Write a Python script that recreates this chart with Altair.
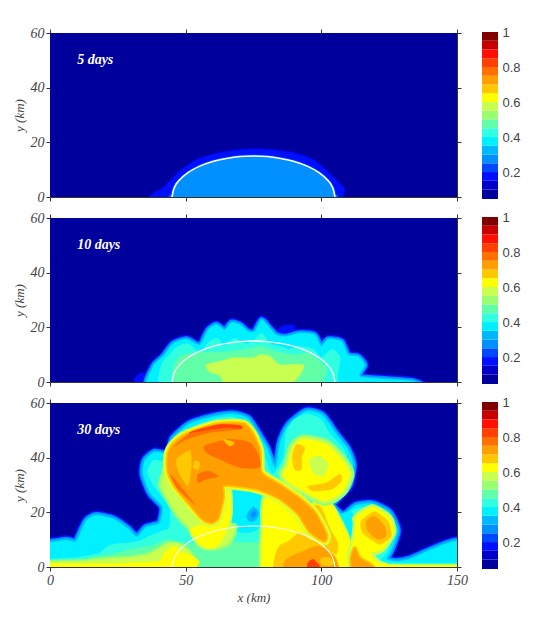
import altair as alt
import pandas as pd

# ---------- contour level bands ----------
LEVELS = [0.046,0.10,0.15,0.20,0.25,0.30,0.35,0.40,0.45,0.50,0.55,0.60,0.65,0.70,0.75,0.80,0.85,0.90,0.95,1.0]
COLORS = ["#00009C","#0000C8","#0010FF","#0048FF","#0090FF","#00B8FF","#00F0FF","#30FFE0","#60FFA8","#98FF70",
          "#C8FF50","#FFFF00","#FFC800","#FFA000","#FF7000","#FF4000","#FF1000","#C80000","#800000"]
CBAR_TICKS = [0.2,0.4,0.6,0.8,1]
X_TICKS = [0,50,100,150]
Y_TICKS = [0,20,40,60]

# ---------- initial boundary (white arc) ----------
ARC_X = [45,45.5,46,48,51,55,60,65,70,75,80,85,90,95,99,102,104,104.5,105]
ARC_Y = [0,2.5,3.8,6.5,9,11.2,13,14.1,14.8,15,14.8,14.1,13,11.2,9,6.5,3.8,2.5,0]

# ---------- panel 1: 5 days ----------
P1_OUT_X = [36,38,41,44,48,54,62,70,75,82,90,97,102,106,108.5,108,110,70]
P1_OUT_Y = [-3,1.2,2.8,5.5,9.5,13.5,16,17.2,17.4,17.2,16,13.5,9.5,5.5,3,0,-3,-5]
P1_IN_X = [44,45,46,48,51,55,60,65,70,75,80,85,90,95,99,102,104,105,106,75]
P1_IN_Y = [-3,1,3.8,6.5,9,11.2,13,14.1,14.8,15,14.8,14.1,13,11.2,9,6.5,3.8,1,-3,-5]

# ---------- panel 2: 10 days ----------
P2_ENV_X = [37.5,38,41.7,45.4,50.3,55.2,58.3,61.3,64.4,66.9,70,73,75.5,78,81,83.4,87,92,97.5,100,102.5,107.4,109.8,113.5,116,114,124,134,136,80]
P2_ENV_Y = [-3,5.6,9.3,14,15.6,13.5,19,20.9,19,21.7,20.9,18.4,18.4,22.7,19.6,17.2,16.6,17.8,17.2,13,15.6,14.8,9.9,9.3,6.2,2,1,0.2,-3,-5]
P2_LEFT_X = [31,33,36,38,36,33]
P2_LEFT_Y = [0.5,3,3,1,-1,-1]
P2_TOP_X = [83,86,90,90,86,83]
P2_TOP_Y = [18,20.5,20.5,17,16,16]
P2_TEAL_X = [42,41,44,47,51,55,59,62,64,68,72,75,78,81,85,88,92,97,100,104,107,106,104,75]
P2_TEAL_Y = [-3,6,10,13,14,11,15,16,13,16,14,15,18,14,13,12,13,12,9,12,9,3,-3,-5]
P2_GREEN_X = [47,45.5,48,52,58,64,72,78,84,90,95,99,102,101,100,75]
P2_GREEN_Y = [-3,5,9.5,10.5,11,11,12,13,11,10,10.5,8,5,1,-3,-5]
P2_CORE_X = [57.7,62.6,67.5,74.8,77.3,81,84.6,93.2,92,89.6,89,64,63.8,62.6,58.9]
P2_CORE_Y = [6.2,7.4,8.7,8.7,9.9,9.3,6.2,6.2,2.6,0,-3,-3,0,2.6,3.8]

# ---------- panel 3: 30 days ----------
P3_ENV_X = [-10,0,6,9.5,11,13.5,17,23.4,28.7,32,35.5,40.4,41.5,37,34.3,35,38.6,43.5,45.3,51.5,60,67.4,73,76.7,79.7,83.1,84.7,86.2,88.4,94.5,100.4,105.5,109.5,111.7,110.2,105.3,103.7,108,112.7,118.8,125,128,125.6,124,128,133,139.8,146,150,160,160,70,-10]
P3_ENV_Y = [9,9,9.8,9.2,12,17,18.8,17.5,14,11,14.5,16,22,27,34,39,42,41.4,47,52.4,55,56,54.3,48.8,43.9,36,44.8,49,52.5,57,55.5,48.5,43.5,37.5,29.8,24.5,22.9,19,22.5,23.1,20,13.3,6,2.8,2,3,6,8.5,9.5,9.5,-6,-8,-6]
P3_TEAL_X = [-10,0,10,18,22,30,33,37,41,44,44,38,36,38,42,46,52,60,67,72,75.5,78.5,82,86,87,90,95,100,103,108,110,109,104,100,103,107,112,118,124,127,124.5,122,135,150,160,160,70,-10]
P3_TEAL_Y = [3,3,3.5,5,8,9,9.5,11.5,13,14.5,22,30,35,39,39,45,51,54,55,53,48,42,34,40,49,54,56,54,49,43.5,38,30,23,21,19,16,21,22,19,13,6,1.8,1.5,1.5,1.5,-6,-8,-6]
P3_LOW8_X = [14,22,30,38,43,48,56,62,70,79,79,60,40,20]
P3_LOW8_Y = [3,4.5,6.5,8,10,9,8.5,9,9,8,-3,-4,-4,-3]
P3_CAV_X = [67,66,66.5,68,72,76,79,79,77,72]
P3_CAV_Y = [28.5,24,17,13.5,12.5,13.5,17,24,27,28]
P3_CAVD_X = [73,75,77,76,74,72.5]
P3_CAVD_Y = [20,22,20,17.5,16.5,18]
P3_CAVS_X = [74.3,75.2,76,75.5,74.5]
P3_CAVS_Y = [19.5,20.5,19.5,18.5,18.2]
P3_GRND_X = [-10,0,14,22,30,36,40,43.5,47,51,54,50,40,20,-10]
P3_GRND_Y = [1.8,1.8,2.2,3,3.5,4.5,6.5,8.5,8.5,6,1,-4,-5,-5,-4]
P3_WING_X = [44,42,41,44,48,54,60,66,68,62,56,50,47]
P3_WING_Y = [40,34,30,24,18,12,7,9,15,14,16,24,30]
P3_RIM_X = [63,66,66.5,65,62,58,54.5,52,58,62]
P3_RIM_Y = [30,29.5,20,13,8,7,9,14,16,17]
P3_Y1_X = [-10,0,14,24,30,38,44,50,55,52,48,40,-10]
P3_Y1_Y = [1.1,1.2,1.2,1.2,1.5,1.8,3,5,2,-2,-4,-4,-4]
P3_Y2_X = [41,43,46,49,52,54,50,47]
P3_Y2_Y = [2,6,7.5,5,3,0,-3,-3]
P3_YC_X = [79,86,92,97,101,104,106,106,92,79,78,78.5]
P3_YC_Y = [25,24,21,16,10,5,2,-5,-6,-5,5,15]
P3_STEM2_X = [97,103.5,107,110,111.5,112,100,100]
P3_STEM2_Y = [27,23,17,11,4,-2,-2,10]
P3_WEDGE_X = [107.5,111,113.2,113,111.6,110.3]
P3_WEDGE_Y = [19,20,16,11,8,12]
P3_HEAD_OUT_X = [112.7,118.8,125,126.5,122.5,118.2,121,124,120,112,110.5,112,112.7]
P3_HEAD_OUT_Y = [18.2,21.9,18.2,12.7,6.6,4.8,1.5,0.2,-3,-3,4,10,15.8]
P3_STRIP_X = [118,130,150,160,160,118]
P3_STRIP_Y = [0.8,0.8,0.8,0.8,-3,-3]
P3_MUSH_X = [87.7,89.6,93.3,101.9,108,110.4,108,104,100.4,95,88,86]
P3_MUSH_Y = [37,43.6,46.7,44.8,38.7,33.9,28,25,24.3,27,31,34]
P3_SWO_X = [106.8,107.4,103.7,97,95,101.9]
P3_SWO_Y = [33.9,31.4,28.4,27.8,29.5,30.8]
P3_SWG_X = [95.7,99.4,102.5,100.6,97]
P3_SWG_Y = [39.3,40.6,37.5,33.2,34.5]
P3_SWP_X = [90.8,93.9,92.7,92.7,90.2,89.3]
P3_SWP_Y = [44.8,43.6,40,35.7,35.7,40.6]
P3_PAT12_X = [97.5,100,103,106,105.5,101.8,97]
P3_PAT12_Y = [22.3,21.7,14.4,8.9,4.6,7,14]
P3_BOT1_X = [84,88,92,96,100.6,104.3,106,83.4]
P3_BOT1_Y = [7,9.5,12.5,10,8.9,4.6,-2,-2]
P3_BOT2_X = [87,93.3,98.8,104.9,106.1,106,87]
P3_BOT2_Y = [2.8,5.8,7.7,4,0,-2,-2]
P3_BOT3_X = [95,97,99.4,98,95]
P3_BOT3_Y = [1.5,2.8,0.3,-1,-1]
P3_LENS_X = [100,103,105,103,100]
P3_LENS_Y = [3.2,3.4,1.5,0.4,0.8]
P3_STEMB_X = [112.3,114.1,119,119,112,111]
P3_STEMB_Y = [7,3.4,0.3,-2,-2,3]
P3_HEAD_RIM_X = [114.7,119.6,124.5,125.8,121.5,115.3]
P3_HEAD_RIM_Y = [16.8,20.2,16.8,11.3,8.3,12.5]
P3_HEAD_X = [116.6,119.6,123.3,123.9,120.9,117.2]
P3_HEAD_Y = [16.8,18.6,15,11.3,10.1,13.1]
P3_BLOB_X = [43.5,45.4,50.3,61.3,71.2,74.8,77.3,77.9,84.7,92,97.5,101.8,101,95.7,91.4,84.7,77,68.7,63.8,63.8,62,59.5,56.4,51.5,46,43.5]
P3_BLOB_Y = [41.2,44.9,48.6,52.2,52.4,48.6,42.5,34.5,30,25,20,12,9.5,13,19.5,25,28.3,29.7,29.7,25.4,18,16.2,17.4,22.9,29.6,35.1]
P3_DEEP_X = [57,66.2,73.6,76.7,77.3,69.9,61.3,57.7]
P3_DEEP_Y = [44.3,46.7,45.5,41.2,36.4,36.4,40,41.8]
P3_CRES_X = [46,52.8,62.6,70.5,69.9,58.9,50.3]
P3_CRES_Y = [44.3,49.8,52.2,51.6,50.4,49.2,46.7]
P3_RED_X = [51.5,62.6,69.9,70.5,65,55.2]
P3_RED_Y = [49.2,52,51.7,50.6,51,49.8]
P3_LCRES_X = [44.2,47.2,53.4,50.9,46]
P3_LCRES_Y = [33.9,28.4,22.9,26,32.1]
P3_CPATCH_X = [54.6,58.3,62,57.7,54.6]
P3_CPATCH_Y = [33.9,35.1,33.3,32.1,30.9]
P3_PALE_X = [46.6,51.5,52.1,50.9,47.8]
P3_PALE_Y = [39.4,42.5,37,29.7,33.9]
P3_PALE2_X = [53.4,55.2,54.6,52.8]
P3_PALE2_Y = [38.8,38.2,35.7,36.4]
P3_PALE3_X = [63.8,68,66.2]
P3_PALE3_Y = [46.7,45.5,44.3]

XS = alt.Scale(domain=[0,150], nice=False, zero=False)
YS = alt.Scale(domain=[0,60], nice=False, zero=False)
W, H = 407, 164
GREY = "#444444"


def blob(xs, ys, level, bands=(), interp="cardinal-closed"):
    df = pd.DataFrame({"x": xs, "y": ys, "i": range(len(xs))})
    out = []
    enc = dict(x=alt.X("x:Q", scale=XS, axis=None), y=alt.Y("y:Q", scale=YS, axis=None), order="i:Q")
    for w, lev in bands:
        out.append(alt.Chart(df).mark_line(interpolate=interp, tension=0.35, stroke=COLORS[lev], strokeWidth=w, clip=True).encode(**enc))
    out.append(alt.Chart(df).mark_line(interpolate=interp, tension=0.35, fill=COLORS[level], stroke=COLORS[level], strokeWidth=0.5, clip=True).encode(**enc))
    return out


def arc(width):
    df = pd.DataFrame({"x": ARC_X, "y": ARC_Y, "i": range(len(ARC_X))})
    return alt.Chart(df).mark_line(interpolate="monotone", stroke="white", strokeWidth=width, clip=True).encode(
        x=alt.X("x:Q", scale=XS, axis=None), y=alt.Y("y:Q", scale=YS, axis=None), order="i:Q")


def panel(shapes, arc_w, label, bottom):
    bg = alt.Chart(pd.DataFrame({"a": [0], "b": [150], "c": [0], "d": [60]})).mark_rect(color=COLORS[0]).encode(
        x=alt.X("a:Q", scale=XS, axis=None), x2="b:Q", y=alt.Y("c:Q", scale=YS, axis=None), y2="d:Q")
    txt = alt.Chart(pd.DataFrame({"x": [10], "y": [50], "t": [label]})).mark_text(
        align="left", baseline="middle", font="Liberation Serif", fontStyle="italic", fontWeight="bold", fontSize=14, color="white"
    ).encode(x=alt.X("x:Q", scale=XS, axis=None), y=alt.Y("y:Q", scale=YS, axis=None), text="t:N")
    inner = alt.layer(bg, *shapes, arc(arc_w), txt)
    axstyle = dict(domainColor="#333333", tickColor="#333333", tickSize=4, labelColor=GREY, titleColor=GREY,
                   labelFont="Liberation Serif", titleFont="Liberation Serif", labelFontStyle="italic", titleFontStyle="italic",
                   labelFontSize=14, titleFontSize=13, titleFontWeight="normal", grid=False)
    d = pd.DataFrame({"x": [0], "y": [0]})
    a1 = alt.Chart(d).mark_point(opacity=0).encode(
        x=alt.X("x:Q", scale=XS, axis=alt.Axis(orient="bottom", values=X_TICKS, labels=bottom, format="d", labelFlush=False,
                                               title="x (km)" if bottom else None, **axstyle)),
        y=alt.Y("y:Q", scale=YS, axis=alt.Axis(orient="left", values=Y_TICKS, title="y (km)", format="d", labelFlush=False, **axstyle)))
    a2 = alt.Chart(d).mark_point(opacity=0).encode(
        x=alt.X("x:Q", scale=XS, axis=alt.Axis(orient="top", values=X_TICKS, labels=False, title=None, **axstyle)),
        y=alt.Y("y:Q", scale=YS, axis=alt.Axis(orient="right", values=Y_TICKS, labels=False, title=None, **axstyle)))
    return alt.layer(inner, a1, a2).resolve_scale(x="independent", y="independent").properties(width=W, height=H)


def colorbar():
    df = pd.DataFrame({"lo": LEVELS[:-1], "hi": LEVELS[1:], "c": COLORS, "a": [0]*19, "b": [1]*19})
    ys = alt.Scale(domain=[0.046,1], range=[166,-1], nice=False, zero=False)
    return alt.Chart(df).mark_rect(clip=False).encode(
        x=alt.X("a:Q", scale=alt.Scale(domain=[0,1]), axis=None), x2="b:Q",
        y=alt.Y("lo:Q", scale=ys, axis=alt.Axis(orient="right", values=CBAR_TICKS, title=None, domain=False, ticks=False, grid=False,
                                                 labelColor=GREY, labelFont="Liberation Sans", labelFontSize=13, labelPadding=4,
                                                 labelExpr="datum.value == 1 ? '1' : format(datum.value,'.1f')", labelFlush=False)),
        y2="hi:Q", color=alt.Color("c:N", scale=None)
    ).properties(width=16, height=H)


p1 = [*blob(P1_OUT_X, P1_OUT_Y, 2, [(3, 1)]), *blob(P1_IN_X, P1_IN_Y, 4, [(3, 3)])]
p2 = [*blob(P2_LEFT_X, P2_LEFT_Y, 2, [(3, 1)]), *blob(P2_TOP_X, P2_TOP_Y, 2, [(3, 1)]),
      *blob(P2_ENV_X, P2_ENV_Y, 6, [(9, 2), (6, 4), (3, 5)]),
      *blob(P2_TEAL_X, P2_TEAL_Y, 7), *blob(P2_GREEN_X, P2_GREEN_Y, 8), *blob(P2_CORE_X, P2_CORE_Y, 10, [(2, 9)])]
p3 = [*blob(P3_ENV_X, P3_ENV_Y, 6, [(10, 2), (7, 4), (4, 5)]),
      *blob(P3_TEAL_X, P3_TEAL_Y, 7),
      *blob(P3_LOW8_X, P3_LOW8_Y, 8),
      *blob(P3_CAV_X, P3_CAV_Y, 6), *blob(P3_CAVD_X, P3_CAVD_Y, 5), *blob(P3_CAVS_X, P3_CAVS_Y, 4),
      *blob(P3_GRND_X, P3_GRND_Y, 10, [(4, 9)]),
      *blob(P3_WING_X, P3_WING_Y, 10, [(6, 9)]),
      *blob(P3_RIM_X, P3_RIM_Y, 11, [(5, 10)]),
      *blob(P3_Y1_X, P3_Y1_Y, 11),
      *blob(P3_Y2_X, P3_Y2_Y, 11),
      *blob(P3_YC_X, P3_YC_Y, 11, [(6, 9), (3, 10)]),
      *blob(P3_STEM2_X, P3_STEM2_Y, 11, [(4, 10)]),
      *blob(P3_WEDGE_X, P3_WEDGE_Y, 6),
      *blob(P3_HEAD_OUT_X, P3_HEAD_OUT_Y, 11, [(6, 10)]),
      *blob(P3_STRIP_X, P3_STRIP_Y, 11),
      *blob(P3_MUSH_X, P3_MUSH_Y, 11, [(10, 9), (5, 10)]),
      *blob(P3_SWG_X, P3_SWG_Y, 10),
      *blob(P3_SWO_X, P3_SWO_Y, 12),
      *blob(P3_SWP_X, P3_SWP_Y, 12),
      *blob(P3_PAT12_X, P3_PAT12_Y, 12),
      *blob(P3_BOT1_X, P3_BOT1_Y, 12),
      *blob(P3_BOT2_X, P3_BOT2_Y, 13),
      *blob(P3_BOT3_X, P3_BOT3_Y, 15),
      *blob(P3_LENS_X, P3_LENS_Y, 12),
      *blob(P3_STEMB_X, P3_STEMB_Y, 13, [(4, 12)]),
      *blob(P3_HEAD_RIM_X, P3_HEAD_RIM_Y, 12),
      *blob(P3_HEAD_X, P3_HEAD_Y, 13),
      *blob(P3_BLOB_X, P3_BLOB_Y, 13, [(9, 10), (6, 11), (4, 12)]),
      *blob(P3_DEEP_X, P3_DEEP_Y, 14),
      *blob(P3_CRES_X, P3_CRES_Y, 14),
      *blob(P3_RED_X, P3_RED_Y, 15),
      *blob(P3_LCRES_X, P3_LCRES_Y, 14),
      *blob(P3_CPATCH_X, P3_CPATCH_Y, 14),
      *blob(P3_PALE_X, P3_PALE_Y, 12),
      *blob(P3_PALE2_X, P3_PALE2_Y, 12),
      *blob(P3_PALE3_X, P3_PALE3_Y, 12)]

row1 = alt.hconcat(panel(p1, 1.6, "5 days", False), colorbar(), spacing=20)
row2 = alt.hconcat(panel(p2, 1.3, "10 days", False), colorbar(), spacing=20)
row3 = alt.hconcat(panel(p3, 1.1, "30 days", True), colorbar(), spacing=14)
chart = alt.vconcat(row1, row2, row3, spacing=7).properties(
    padding={"left": 5, "top": 18, "right": 0, "bottom": 0}, background="white"
).configure_view(stroke=None)
chart.save("out.html", embed_options={"renderer": "svg", "actions": False})
